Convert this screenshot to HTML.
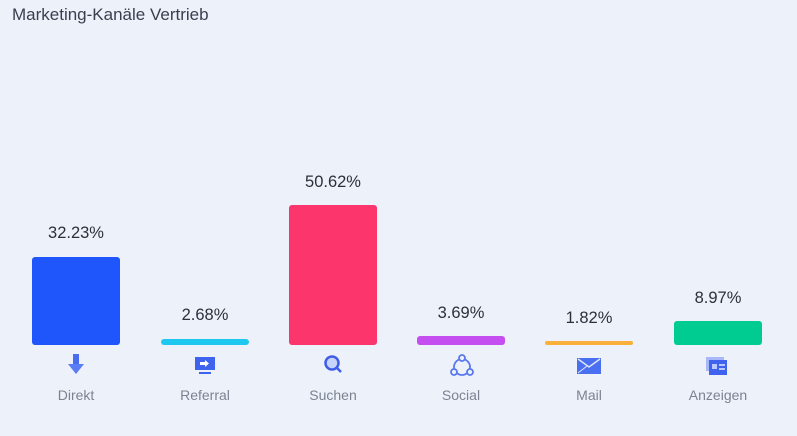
<!DOCTYPE html>
<html><head><style>
body{margin:0;width:797px;height:436px;background:#edf1fa;font-family:"Liberation Sans",sans-serif;position:relative;overflow:hidden}
.t{position:absolute;left:12px;top:5px;font-size:17px;color:#3a3f4e}
.b{position:absolute;width:88px;border-radius:3px}
.v{position:absolute;width:128px;text-align:center;font-size:16.5px;color:#2c303c}
.c{position:absolute;width:128px;text-align:center;font-size:14px;color:#7d8291;top:387px}
svg{position:absolute;top:354px}
</style></head><body>
<div class="t">Marketing-Kanäle Vertrieb</div>

<div class="b" style="left:32px;top:257px;height:88px;background:#1e56fb"></div>
<div class="b" style="left:161px;top:339px;height:6px;background:#1fc8ee"></div>
<div class="b" style="left:289px;top:205px;height:140px;background:#fd356d"></div>
<div class="b" style="left:417px;top:336px;height:9px;background:#c44ef0"></div>
<div class="b" style="left:545px;top:341px;height:4px;background:#fbb03b"></div>
<div class="b" style="left:674px;top:321px;height:24px;background:#00cc92"></div>

<div class="v" style="left:12px;top:224px">32.23%</div>
<div class="v" style="left:141px;top:306px">2.68%</div>
<div class="v" style="left:269px;top:173px">50.62%</div>
<div class="v" style="left:397px;top:304px">3.69%</div>
<div class="v" style="left:525px;top:309px">1.82%</div>
<div class="v" style="left:654px;top:289px">8.97%</div>

<svg style="left:66px" width="20" height="24"><rect x="7" y="0" width="6" height="10" fill="#4a6cf0"/><polygon points="2,10 18,10 10,20" fill="#5a7cf5"/></svg>
<svg style="left:194px" width="22" height="24"><rect x="1" y="3" width="20" height="13" fill="#3f63ee"/><polygon points="6,8 11,8 11,6 15,9.5 11,13 11,11 6,11" fill="#fff"/><rect x="5" y="18" width="12" height="2" fill="#3f63ee"/></svg>
<svg style="left:322px" width="22" height="24"><circle cx="10" cy="9" r="6.5" fill="#c9d4fb" stroke="#3f5ee8" stroke-width="2.5"/><line x1="15" y1="14" x2="19" y2="18" stroke="#3f5ee8" stroke-width="2.5"/></svg>
<svg style="left:449px" width="26" height="26"><circle cx="13" cy="13" r="8" fill="none" stroke="#5a78ee" stroke-width="1.8"/><circle cx="13" cy="4" r="3" fill="#edf1fa" stroke="#5a78ee" stroke-width="1.8"/><circle cx="5" cy="18" r="3" fill="#edf1fa" stroke="#5a78ee" stroke-width="1.8"/><circle cx="21" cy="18" r="3" fill="#edf1fa" stroke="#5a78ee" stroke-width="1.8"/></svg>
<svg style="left:577px" width="24" height="24"><rect x="0" y="4" width="24" height="16" fill="#4a6ff0"/><polyline points="1,5 12,13 23,5" fill="none" stroke="#dfe6ff" stroke-width="1.5"/><polyline points="1,19 10,12 M14,12 23,19" fill="none" stroke="#dfe6ff" stroke-width="1"/></svg>
<svg style="left:706px" width="22" height="24"><rect x="0" y="3" width="18" height="14" fill="#a9b8f8"/><rect x="3" y="6" width="18" height="15" fill="#3f63ee"/><rect x="6" y="10" width="5" height="5" fill="#b9c8ff"/><rect x="13" y="10" width="6" height="2" fill="#b9c8ff"/><rect x="13" y="14" width="6" height="2" fill="#b9c8ff"/></svg>

<div class="c" style="left:12px">Direkt</div>
<div class="c" style="left:141px">Referral</div>
<div class="c" style="left:269px">Suchen</div>
<div class="c" style="left:397px">Social</div>
<div class="c" style="left:525px">Mail</div>
<div class="c" style="left:654px">Anzeigen</div>
</body></html>
